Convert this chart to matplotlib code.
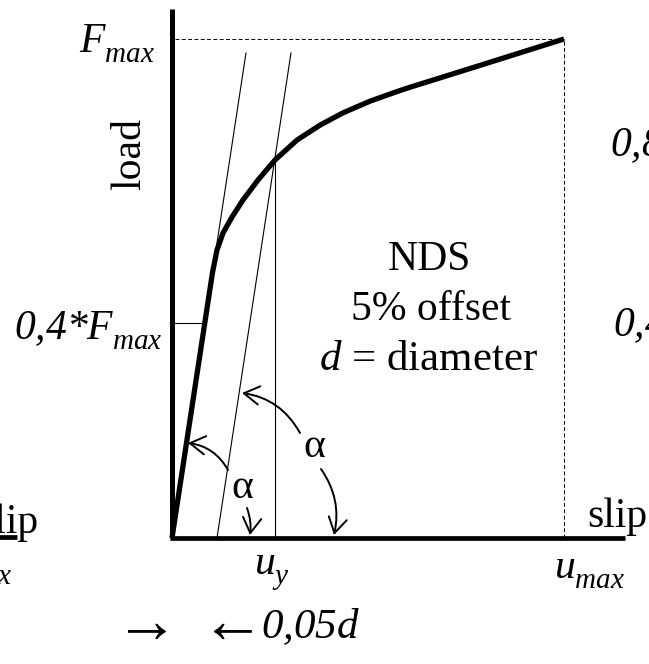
import matplotlib
matplotlib.use("Agg")
import matplotlib.pyplot as plt
from matplotlib.patches import FancyArrowPatch

try:  # deeper subscripts, as in the reference typesetting
    import matplotlib._mathtext as _mt
    _mt.FontConstantsBase.sub1 = 0.55
    _mt.FontConstantsBase.sub2 = 0.55
except Exception:
    pass

# ---- data (normalised: slip / u_max, load / F_max) ----
slip = [0.0, 0.1031, 0.1148, 0.1301, 0.1531, 0.1811, 0.2194, 0.2628, 0.3189,
        0.3776, 0.4362, 0.5051, 0.5740, 0.6071, 0.7296, 1.0]
load = [0.0, 0.5311, 0.5772, 0.6112, 0.6433, 0.6774, 0.7174, 0.7575, 0.7975,
        0.8274, 0.8520, 0.8754, 0.8947, 0.9033, 0.9333, 1.0]
f_max = 1.0
u_max = 1.0
load_04 = 0.43          # level of the 0,4*Fmax line as drawn
initial_stiffness = 5.15
stiffness_line_top = 0.972
offset_005d = 0.1148
u_y = 0.263
f_y = 0.758
x_axis_end = 1.1556
y_axis_end = 1.0601

plt.rcParams['font.family'] = ['Liberation Serif', 'DejaVu Serif']
plt.rcParams['mathtext.fontset'] = 'custom'
plt.rcParams['mathtext.rm'] = 'Liberation Serif:italic'
plt.rcParams['mathtext.it'] = 'Liberation Serif:italic'
plt.rcParams['mathtext.sf'] = 'Liberation Serif'

fig = plt.figure(figsize=(6.49, 6.64), dpi=100)
ax = fig.add_axes([0, 0, 1, 1])
ax.set_xlim(-172 / 392, 477 / 392)
ax.set_ylim(-126 / 499, 538 / 499)
ax.axis('off')

FS = 30
K = 'black'

# axes
ax.plot([0, 0], [0, y_axis_end], color=K, lw=3.6, solid_capstyle='butt')
ax.plot([-0.005, x_axis_end], [0, 0], color=K, lw=3.4, solid_capstyle='butt')
# cropped neighbour panel axis end
ax.plot([-0.46, -0.395], [0.003, 0.003], color=K, lw=3.4, solid_capstyle='butt')

# dashed Fmax / umax guides
ax.plot([0.008, u_max], [f_max, f_max], color=K, lw=0.7, dashes=(4, 2.5))
ax.plot([u_max, u_max], [0, f_max], color=K, lw=0.7, dashes=(4, 2.5))

# stiffness line and 5% offset line
ax.plot([0, stiffness_line_top / initial_stiffness], [0, stiffness_line_top],
        color=K, lw=0.8)
ax.plot([offset_005d, offset_005d + stiffness_line_top / initial_stiffness],
        [0, stiffness_line_top], color=K, lw=0.8)
# u_y vertical
ax.plot([u_y, u_y], [0, f_y], color=K, lw=0.8)
# 0,4 Fmax horizontal
ax.plot([0, load_04 / initial_stiffness], [load_04, load_04], color=K, lw=0.8)

# load-slip curve
ax.plot(slip, load, color=K, lw=3.8, solid_capstyle='butt', solid_joinstyle='round')

# arrows
arrows = [((0.1429, 0.1363), (0.0408, 0.1904), 0.25),
          ((0.1913, 0.0601), (0.1990, 0.0060), -0.12),
          ((0.3265, 0.2104), (0.1786, 0.2906), 0.25),
          ((0.3801, 0.1383), (0.4133, 0.0060), -0.22)]
for a, b, r in arrows:
    ax.add_patch(FancyArrowPatch(a, b, connectionstyle=f"arc3,rad={r}",
                                 arrowstyle="->,head_length=0.5,head_width=0.3",
                                 mutation_scale=22, lw=1.4, color=K,
                                 shrinkA=0, shrinkB=0))

# texts
ax.text(-0.0434, 0.972, r"$F_{max}$", fontsize=FS, ha='right', va='baseline')
ax.text(-0.107, 0.770, "load", fontsize=FS, rotation=90, ha='center', va='center')
ax.text(-0.023, 0.397, r"$0{,}4{*}F_{max}$", fontsize=FS, ha='right', va='baseline')
ax.text(0.658, 0.537, "NDS", fontsize=FS, ha='center', va='baseline')
ax.text(0.661, 0.437, "5% offset", fontsize=FS, ha='center', va='baseline')
ax.text(0.655, 0.337, r"$d$ = diameter", fontsize=31, ha='center', va='baseline')
ax.text(0.179, 0.100, "α", fontsize=FS, ha='center', va='center')
ax.text(0.362, 0.182, "α", fontsize=FS, ha='center', va='center')
ax.text(0.255, -0.074, r"$u_{y}$", fontsize=FS, ha='center', va='baseline')
ax.text(1.066, -0.082, r"$u_{max}$", fontsize=FS, ha='center', va='baseline')
ax.text(1.059, 0.022, "slip", fontsize=FS, ha='left', va='baseline')
ax.text(-0.342, 0.010, "slip", fontsize=FS, ha='right', va='baseline')
ax.text(-0.408, -0.074, r"$u_{max}$", fontsize=FS, ha='right', va='baseline')
ax.text(1.117, 0.764, r"$0{,}8{*}F_{max}$", fontsize=FS, ha='left', va='baseline')
ax.text(1.125, 0.403, r"$0{,}4{*}F_{max}$", fontsize=FS, ha='left', va='baseline')
ax.text(-0.064, -0.178, "→", fontsize=46, ha='center', va='center')
ax.text(0.238, -0.178, "←", fontsize=46, ha='right', va='center')
ax.text(0.226, -0.200, r"$0{,}05d$", fontsize=31, ha='left', va='baseline')

fig.savefig("out.png", dpi=100)
